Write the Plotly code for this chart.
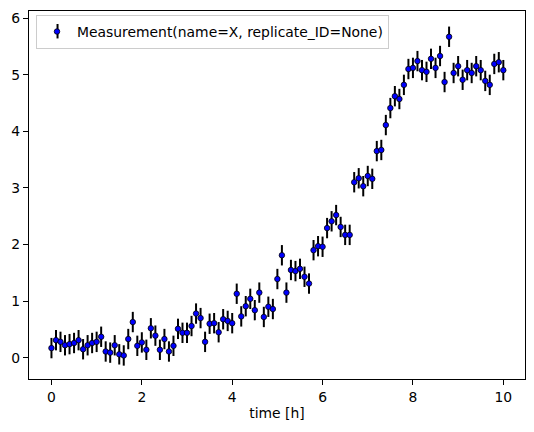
import plotly.graph_objects as go

time_h = [0.0, 0.1, 0.2, 0.3, 0.4, 0.5, 0.6, 0.7, 0.8, 0.9,
          1.0, 1.1, 1.2, 1.3, 1.4, 1.5, 1.6, 1.7, 1.8, 1.9,
          2.0, 2.1, 2.2, 2.3, 2.4, 2.5, 2.6, 2.7, 2.8, 2.9,
          3.0, 3.1, 3.2, 3.3, 3.4, 3.5, 3.6, 3.7, 3.8, 3.9,
          4.0, 4.1, 4.2, 4.3, 4.4, 4.5, 4.6, 4.7, 4.8, 4.9,
          5.0, 5.1, 5.2, 5.3, 5.4, 5.5, 5.6, 5.7, 5.8, 5.9,
          6.0, 6.1, 6.2, 6.3, 6.4, 6.5, 6.6, 6.7, 6.8, 6.9,
          7.0, 7.1, 7.2, 7.3, 7.4, 7.5, 7.6, 7.7, 7.8, 7.9,
          8.0, 8.1, 8.2, 8.3, 8.4, 8.5, 8.6, 8.7, 8.8, 8.9,
          9.0, 9.1, 9.2, 9.3, 9.4, 9.5, 9.6, 9.7, 9.8, 9.9,
          10.0]

measurement_x = [0.17, 0.31, 0.28, 0.22, 0.24, 0.26, 0.31, 0.15, 0.22, 0.26,
                 0.28, 0.37, 0.11, 0.09, 0.22, 0.06, 0.04, 0.33, 0.63, 0.21,
                 0.27, 0.14, 0.52, 0.39, 0.14, 0.33, 0.11, 0.21, 0.51, 0.44,
                 0.44, 0.56, 0.78, 0.70, 0.28, 0.60, 0.61, 0.45, 0.68, 0.65,
                 0.61, 1.13, 0.73, 0.91, 1.04, 0.84, 1.15, 0.72, 0.90, 0.86,
                 1.39, 1.81, 1.15, 1.55, 1.53, 1.57, 1.43, 1.31, 1.90, 1.97,
                 1.96, 2.29, 2.41, 2.52, 2.31, 2.17, 2.17, 3.10, 3.17, 3.03,
                 3.21, 3.16, 3.65, 3.67, 4.11, 4.41, 4.62, 4.57, 4.82, 5.10,
                 5.12, 5.24, 5.08, 5.05, 5.28, 5.12, 5.33, 4.87, 5.67, 5.03,
                 5.15, 4.91, 5.08, 5.03, 5.15, 5.08, 4.89, 4.82, 5.19, 5.22,
                 5.08]

error_sd = 0.18

series_name = "Measurement(name=X, replicate_ID=None)"
x_label = "time [h]"

FONT = "DejaVu Sans"
FS = 13.9

W, H = 534, 432
ML, MR, MT, MB = 29.3, 9.3, 10.5, 52.7
PW, PH = W - ML - MR, H - MT - MB

fig = go.Figure()
fig.add_trace(go.Scatter(
    x=time_h, y=measurement_x, mode="markers", name=series_name,
    marker=dict(color="#0000ff", size=5.5, line=dict(color="black", width=0.8)),
    error_y=dict(type="constant", value=error_sd, color="black",
                 thickness=2, width=0),
    showlegend=True,
))

# error-bar stroke behind the legend glyph (legend decoration only)
lx = (57.8 - ML) / PW
fig.add_shape(type="line", xref="paper", yref="paper",
              x0=lx, x1=lx, y0=1 - (23.5 - MT) / PH, y1=1 - (38.0 - MT) / PH,
              line=dict(color="black", width=2), layer="above")

fig.update_layout(
    width=W, height=H,
    margin=dict(l=ML, r=MR, t=MT, b=MB, autoexpand=False),
    paper_bgcolor="white", plot_bgcolor="white",
    font=dict(family=FONT, size=FS, color="black"),
    showlegend=True,
    legend=dict(x=7 / PW, y=1 - 4 / PH, xanchor="left", yanchor="top",
                bgcolor="rgba(0,0,0,0)", bordercolor="#cccccc",
                borderwidth=1, font=dict(family=FONT, size=FS)),
    xaxis=dict(range=[-0.497, 10.48], tickmode="linear", tick0=0, dtick=2,
               automargin=False,
               showgrid=False, zeroline=False, showline=True, linecolor="black",
               linewidth=1.1, mirror=True, ticks="outside", ticklen=5,
               tickwidth=1.1, tickcolor="black",
               title=dict(text=x_label, standoff=4,
                          font=dict(family=FONT, size=FS))),
    yaxis=dict(range=[-0.376, 6.125], tickmode="linear", tick0=0, dtick=1,
               automargin=False,
               showgrid=False, zeroline=False, showline=True, linecolor="black",
               linewidth=1.1, mirror=True, ticks="outside", ticklen=5,
               tickwidth=1.1, tickcolor="black"),
)

fig.write_html("out.html",
               config={"displayModeBar": False},
               post_script="document.body.style.margin='0px';"
                           "document.body.style.overflow='hidden';")
